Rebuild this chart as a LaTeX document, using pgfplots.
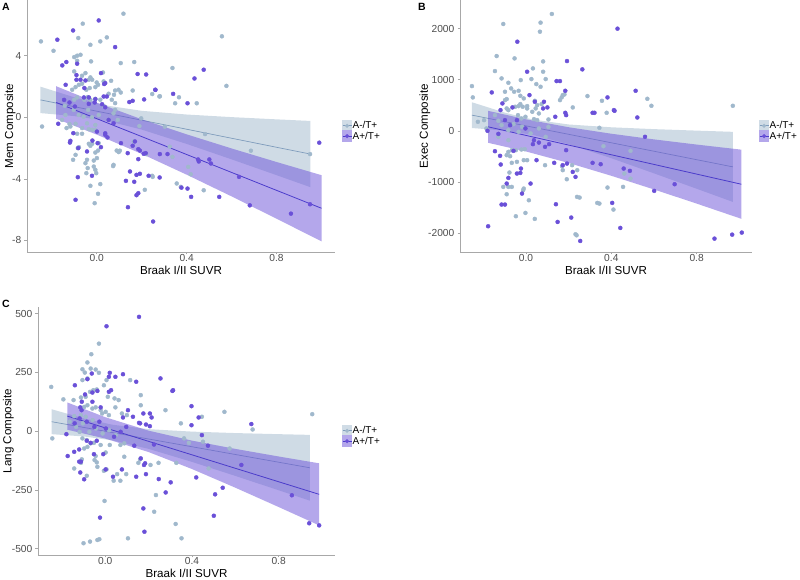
\documentclass[border=0pt]{standalone}
\usepackage{fontspec}
\setmainfont{Liberation Sans}
\usepackage{pgfplots}
\pgfplotsset{compat=1.18}
\definecolor{ptL}{HTML}{A0B8CC}
\definecolor{ptP}{HTML}{6A50D8}
\definecolor{lnL}{HTML}{7F9CBC}
\definecolor{lnP}{HTML}{4B3CCB}
\definecolor{ribLs}{HTML}{D0DCE6}
\definecolor{ribPs}{HTML}{B4A7EB}
\definecolor{axgray}{HTML}{A8A8A8}
\definecolor{tickgray}{HTML}{4D4D4D}
\newcommand{\tl}{\fontsize{10.2}{12}\selectfont}
\newcommand{\lf}{\fontsize{11.6}{13}\selectfont}
\pgfplotsset{
 panel/.style={
  scale only axis,
  axis x line*=bottom, axis y line*=left,
  axis line style={axgray, line width=0.8pt},
  xmin=-0.31, xmax=1.06,
  xtick={0,0.4,0.8}, xticklabels={\tl 0.0,\tl 0.4,\tl 0.8},
  tick style={axgray, line width=0.6pt},
  major tick length=2.5pt,
  tick align=outside,
  ticklabel style={text=tickgray},
  xticklabel style={anchor=base, yshift=-7.5pt, inner sep=0pt},
  yticklabel style={anchor=east, inner sep=0pt, xshift=-3pt},
  xlabel={\lf Braak I/II SUVR},
  every axis x label/.style={at={(axis description cs:0.5,0)}, anchor=base, yshift=-23pt},
  every axis y label/.style={rotate=90, anchor=center},
  legend style={draw=none, fill=none, at={(axis description cs:1,0.5)}, anchor=west, xshift=7pt, yshift=-5pt, font=\fontsize{10}{11}\selectfont, inner sep=0pt, row sep=-1pt, nodes={inner sep=0.6pt}},
  legend cell align=left,
 },
 ptsL/.style={only marks, mark=*, mark size=2.0pt, color=ptL, forget plot},
 ptsP/.style={only marks, mark=*, mark size=2.0pt, color=ptP, forget plot},
 ribL/.style={draw=none, fill=ptL, fill opacity=0.5, forget plot},
 ribP/.style={draw=none, fill=ptP, fill opacity=0.5, forget plot},
 lineL/.style={lnL, line width=0.7pt, no marks, forget plot},
 lineP/.style={lnP, line width=0.8pt, no marks, forget plot},
 keyL/.style={legend image code/.code={\fill[ribLs] (0pt,-5.5pt) rectangle (9pt,5.5pt); \draw[lnL, line width=0.7pt] (0pt,0pt) -- (9pt,0pt); \fill[ptL] (4.5pt,0pt) circle (1.8pt);}},
 keyP/.style={legend image code/.code={\fill[ribPs] (0pt,-5.5pt) rectangle (9pt,5.5pt); \draw[lnP, line width=0.8pt] (0pt,0pt) -- (9pt,0pt); \fill[ptP] (4.5pt,0pt) circle (1.8pt);}},
}
\begin{document}
\begin{tikzpicture}
\path[use as bounding box] (0pt,0pt) rectangle (800pt,580pt);
\node[anchor=north west, inner sep=0pt, font=\bfseries\fontsize{10.5}{12}\selectfont] at (2pt,577pt) {A};
\node[anchor=north west, inner sep=0pt, font=\bfseries\fontsize{10.5}{12}\selectfont] at (418pt,577pt) {B};
\node[anchor=north west, inner sep=0pt, font=\bfseries\fontsize{10.5}{12}\selectfont] at (2pt,280pt) {C};

% ---------------- Panel A ----------------
\begin{axis}[panel, at={(27pt,328pt)}, anchor=south west, width=308pt, height=252pt,
  ymin=-8.75, ymax=7.62, ytick={-8,-4,0,4}, yticklabels={\tl -8,\tl -4,\tl 0,\tl 4},
  ylabel={\lf Mem Composite}, ylabel style={at={(axis description cs:-0.055,0.5)}}]
\addplot[ptsL] coordinates {
(0.119,6.73) (-0.062,6.08) (-0.248,4.93) (-0.192,4.32) (-0.082,5.15) (-0.028,4.71) (0.016,4.93) (0.045,5.19)
(-0.10,3.91) (-0.087,4.00) (-0.072,4.06) (-0.087,3.67) (-0.025,3.63) (0.107,3.52) (0.167,3.59) (-0.10,2.98)
(-0.05,2.87) (-0.065,2.70) (-0.028,2.59) (-0.02,2.44) (-0.035,2.44) (0.0,2.26) (0.028,2.91) (0.031,2.33)
(0.064,2.37) (-0.109,1.79) (-0.094,1.96) (-0.079,2.11) (-0.065,2.18) (-0.046,1.79) (-0.031,1.90) (-0.006,1.96)
(0.006,2.11) (0.082,1.74) (0.097,1.79) (0.077,1.46) (0.053,1.53) (0.107,1.61) (0.16,1.74) (0.247,1.51)
(0.279,1.35) (-0.10,1.14) (-0.087,1.29) (-0.055,1.14) (-0.04,1.31) (-0.028,1.14) (-0.006,1.20) (0.016,1.14)
(0.067,1.14) (0.082,0.92) (0.082,0.49) (-0.142,0.75)
(-0.243,-0.60) (-0.134,-0.70) (-0.117,-0.60) (-0.094,-0.42) (-0.065,-0.70) (-0.087,-1.07) (-0.065,-1.07)
(-0.035,-0.77) (-0.02,-0.81) (-0.006,-0.81) (-0.035,-1.72) (-0.028,-1.85) (-0.02,-1.72) (0.009,-1.68)
(0.006,-2.16) (-0.006,-2.29) (0.001,-2.65) (-0.013,-2.81) (-0.084,-2.00) (-0.079,-1.94) (-0.094,-2.44)
(-0.105,-2.76) (-0.043,-2.76) (-0.05,-2.98) (-0.04,-3.30) (-0.046,-3.63) (-0.013,-3.20) (-0.006,-3.41)
(-0.002,-3.63) (0.016,-4.34) (0.006,-4.97) (-0.028,-4.45) (-0.009,-5.58) (0.075,-3.09) (0.089,-2.16)
(0.098,-2.26) (0.165,-1.57) (0.214,-4.71) (0.247,-3.80)
(0.337,3.20) (0.557,5.26) (0.577,2.04) (0.366,1.30) (0.349,0.91) (0.445,0.91) (0.281,1.37) (0.303,-0.61)
(0.325,-1.91) (0.337,-2.57) (0.356,-4.30) (0.374,-4.52) (0.418,-3.70) (0.407,-3.22) (0.249,-3.87) (0.19,-0.57)
(0.198,-0.07) (0.22,-2.39) (0.482,-1.09) (0.476,-4.74) (0.686,-2.17) (0.949,-2.39) (0.103,-2.17) (0.073,-3.17)
(-0.058,0.04) (-0.038,0.48) (-0.021,0.0) (0.009,0.15) (0.031,0.74) (-0.043,-0.39) (-0.006,-0.5) (-0.08,0.15)
(-0.102,0.48) (-0.139,0.15) (-0.154,-0.17) (-0.121,-0.43) (0.075,0.26) (0.094,-0.17) (0.053,-0.17)
};
\addplot[ptsP] coordinates {
(0.009,6.29) (-0.105,5.64) (-0.175,5.04) (0.082,4.56) (-0.135,3.59) (-0.153,3.37) (-0.087,3.48) (0.182,2.81)
(0.019,2.87) (-0.09,2.74) (-0.072,2.44) (-0.05,2.39) (-0.09,2.44) (0.038,2.22) (0.033,2.16) (-0.138,2.11)
(-0.055,1.90) (0.261,1.79) (0.211,1.16) (0.145,0.99) (0.16,1.07) (-0.057,1.29) (-0.035,1.29) (-0.006,1.18)
(0.031,1.35) (0.045,1.35) (-0.171,-0.42) (-0.117,-1.53) (-0.119,-1.64) (-0.104,-1.03) (-0.082,-2.00)
(-0.043,-2.22) (-0.019,-1.51) (0.004,-1.68) (0.019,-1.94) (0.038,-1.14) (0.048,-1.31) (0.108,-1.68)
(0.138,-2.33) (0.16,-1.85) (0.17,-1.57) (0.185,-2.07) (0.192,-2.16) (0.209,-2.37) (0.218,-2.33) (0.185,-2.72)
(0.148,-3.52) (0.192,-3.67) (0.177,-3.74) (0.13,-4.13) (0.167,-4.19) (0.231,-3.80) (0.28,-3.91) (0.185,-4.93)
(0.177,-5.06) (-0.084,-3.89) (-0.021,-3.80) (-0.094,-5.36) (0.139,-5.84) (0.251,-6.77)
(0.22,2.78) (0.261,1.78) (0.34,1.52) (0.404,0.91) (0.435,2.52) (0.476,3.09) (0.281,-2.39) (0.315,-2.39)
(0.404,-4.63) (0.377,-4.57) (0.42,-5.17) (0.451,-2.74) (0.454,-2.87) (0.501,-2.74) (0.508,-3.00) (0.545,-5.17)
(0.633,-3.87) (0.681,-5.72) (0.864,-6.26) (0.949,-5.65) (0.99,-1.65)
(-0.145,1.13) (-0.121,0.96) (-0.097,0.70) (-0.035,0.87) (-0.009,0.96) (0.024,0.85) (0.038,0.65)
(0.053,-0.17) (0.075,-0.39) (0.001,-0.93) (0.038,-1.04)
};
\addplot[ribL] coordinates {(-0.25,1.988) (-0.1,1.300) (0.05,0.751) (0.2,0.421) (0.4,0.180) (0.6,0.011) (0.8,-0.134) (0.95,-0.237)
 (0.95,-4.537) (0.8,-3.760) (0.6,-2.733) (0.4,-1.730) (0.2,-0.799) (0.05,-0.249) (-0.1,0.080) (-0.25,0.272)} -- cycle;
\addplot[lineL] coordinates {(-0.25,1.130) (0.95,-2.387)};
\addplot[ribP] coordinates {(-0.18,2.017) (0,0.947) (0.2,-0.128) (0.4,-1.107) (0.6,-2.024) (0.8,-2.904) (1.0,-3.761)
 (1.0,-8.059) (0.8,-6.588) (0.6,-5.138) (0.4,-3.727) (0.2,-2.376) (0,-1.123) (-0.18,-0.097)} -- cycle;
\addplot[lineP] coordinates {(-0.18,0.960) (1.0,-5.910)};
\addlegendimage{keyL}\addlegendentry{A-/T+}
\addlegendimage{keyP}\addlegendentry{A+/T+}
\end{axis}

% ---------------- Panel B ----------------
\begin{axis}[panel, at={(460pt,328pt)}, anchor=south west, width=292pt, height=252pt,
  ymin=-2373, ymax=2562, ytick={-2000,-1000,0,1000,2000}, yticklabels={\tl -2000,\tl -1000,\tl 0,\tl 1000,\tl 2000},
  ylabel={\lf Exec Composite}, ylabel style={at={(axis description cs:-0.12,0.5)}}]
\addplot[ptsL] coordinates {
(0.121,2288) (-0.107,2092) (0.068,2118) (0.065,1941) (-0.138,1464) (-0.054,1418) (0.08,1359) (-0.146,1170)
(0.032,1222) (-0.115,1026) (-0.025,993) (0.025,1013) (0.092,1013) (0.08,1157) (-0.083,941) (0.048,915)
(0.068,863) (-0.254,876) (-0.25,654) (-0.07,830) (-0.056,765) (-0.035,784) (-0.099,765) (-0.027,686)
(-0.011,634) (-0.091,621) (-0.099,601) (0.041,588) (0.052,503) (0.073,523) (0.167,654) (0.172,699)
(0.18,712) (0.159,601) (0.288,680) (0.219,458) (-0.035,484) (-0.027,523) (-0.016,471) (-0.051,471)
(0.005,484) (0.005,438) (-0.091,438) (-0.083,405) (0.045,438) (0.029,373) (-0.038,307) (-0.022,242)
(-0.003,275) (0.037,229) (0.06,340) (0.105,222) (-0.197,209)
(-0.083,-412) (-0.067,-379) (-0.048,-379) (-0.022,-366) (-0.006,-359) (-0.091,-477) (-0.075,-497)
(-0.067,-627) (-0.043,-608) (-0.011,-575) (0.005,-575) (-0.078,-817) (-0.107,-1098) (-0.083,-1098)
(-0.091,-1242) (-0.067,-1098) (-0.011,-1131) (-0.014,-1163) (0.013,-1360) (-0.048,-1673) (-0.003,-1608)
(0.041,-1725) (0.169,-693) (0.172,-771) (0.191,-948) (0.216,-673) (0.24,-771) (0.251,-1307) (0.232,-2026)
(0.334,-1412) (0.089,-673) (0.105,78)
(0.356,588) (0.378,353) (0.569,627) (0.588,490) (0.97,490) (0.344,59) (0.363,-301) (0.382,-1111)
(0.41,-1542) (0.455,-1098) (0.461,-837) (0.49,-935) (0.49,-392) (0.344,-1425) (0.239,-1294) (0.237,-2046)
(-0.146,307) (-0.13,196) (-0.115,111) (-0.083,13) (-0.059,131) (-0.035,-20) (-0.019,78) (0.021,-52)
(0.06,46) (0.092,-118) (-0.083,-183) (-0.13,-118) (-0.186,46) (-0.226,176) (0.052,209)
};
\addplot[ptsP] coordinates {
(-0.041,1745) (0.192,1366) (0.264,1203) (0.005,1157) (0.143,974) (0.159,974) (0.184,784) (-0.161,752)
(0.016,699) (-0.111,536) (0.041,569) (0.084,569) (0.08,438) (0.10,458) (0.137,275) (0.184,353) (0.188,307)
(-0.12,405) (-0.064,458) (0.321,353)
(-0.146,-399) (-0.122,-490) (-0.119,-660) (-0.059,-392) (-0.024,-739) (-0.043,-837) (-0.027,-824)
(-0.083,-922) (-0.091,-1033) (-0.019,-1229) (0.021,-1033) (-0.115,-1444) (-0.099,-1444) (-0.178,-1869)
(0.049,-575) (0.132,-627) (0.172,-673) (0.192,-641) (0.219,-804) (0.232,-902) (0.14,-1438) (0.148,-1784)
(0.212,-1699) (0.254,-2157) (0.032,-261) (0.089,-314) (0.108,-261) (0.188,-379)
(0.312,353) (0.382,654) (0.412,405) (0.415,392) (0.429,2000) (0.514,784) (0.522,261) (0.558,-118)
(0.312,-627) (0.35,-654) (0.404,-1412) (0.442,-1902) (0.458,-739) (0.487,-784) (0.601,-1176) (0.697,-1046)
(0.884,-2111) (0.967,-2033) (1.012,-1993)
(-0.181,0) (-0.099,209) (-0.075,111) (-0.043,209) (-0.003,46) (0.037,-183) (-0.13,-60) (0.06,-230)
};
\addplot[ribL] coordinates {(-0.254,559) (-0.1,356) (0.03,222) (0.2,124) (0.4,69) (0.6,33) (0.8,4) (0.97,-20)
 (0.97,-1392) (0.8,-1134) (0.6,-833) (0.4,-537) (0.2,-262) (0.03,-78) (-0.1,3) (-0.254,55)} -- cycle;
\addplot[lineL] coordinates {(-0.254,307) (0.97,-706)};
\addplot[ribP] coordinates {(-0.178,391) (0,225) (0.2,70) (0.4,-57) (0.6,-168) (0.8,-269) (1.01,-369)
 (1.01,-1723) (0.8,-1425) (0.6,-1148) (0.4,-881) (0.2,-630) (0,-405) (-0.178,-235)} -- cycle;
\addplot[lineP] coordinates {(-0.178,78) (1.01,-1046)};
\addlegendimage{keyL}\addlegendentry{A-/T+}
\addlegendimage{keyP}\addlegendentry{A+/T+}
\end{axis}

% ---------------- Panel C ----------------
\begin{axis}[panel, at={(38pt,25pt)}, anchor=south west, width=297pt, height=248pt,
  ymin=-527, ymax=528, ytick={-500,-250,0,250,500}, yticklabels={\tl -500,\tl -250,\tl 0,\tl 250,\tl 500},
  ylabel={\lf Lang Composite}, ylabel style={at={(axis description cs:-0.10,0.5)}}]
\addplot[ptsL] coordinates {
(-0.029,372) (-0.064,327) (-0.082,292) (-0.105,263) (-0.094,249) (-0.067,266) (-0.044,262) (-0.029,248)
(-0.249,188) (-0.193,135) (-0.146,132) (-0.112,143) (-0.09,146) (-0.07,167) (-0.055,174) (-0.039,177)
(-0.105,217) (-0.082,224) (-0.006,195) (0.006,217) (0.012,146) (0.043,139) (0.062,132) (0.115,217)
(0.164,153) (0.164,110) (0.047,101) (0.077,75) (0.10,68) (0.278,89) (-0.082,110) (-0.097,103) (-0.059,96)
(-0.044,101) (-0.021,89) (-0.014,75) (0.002,82) (0.017,68) (-0.112,68) (-0.09,61) (-0.143,64)
(-0.244,-31) (-0.105,-31) (-0.085,-38) (-0.067,-52) (-0.052,-50) (-0.021,-59) (-0.097,-74) (-0.082,-67)
(0.002,-91) (-0.044,-106) (-0.049,-123) (-0.039,-133) (-0.036,-152) (-0.108,-120) (-0.112,-135)
(-0.143,-159) (-0.085,-190) (-0.006,-169) (0.006,-163) (0.039,-211) (0.07,-211) (0.055,-183) (0.088,-109)
(0.097,-183) (0.153,-135) (0.161,-120) (0.209,-144) (0.07,-59) (0.088,-52) (0.021,-59) (-0.003,-297)
(-0.10,-477) (-0.07,-470) (-0.036,-463) (-0.027,-460) (0.105,-456) (0.246,-135) (0.234,-272) (0.226,-343)
(0.325,-395)
(0.349,33) (0.446,61) (0.55,82) (0.574,-74) (0.68,7) (0.955,72) (0.364,-31) (0.328,-135) (0.386,-50)
(0.451,-45) (0.477,-159) (0.352,-456)
(-0.164,40) (-0.134,18) (-0.103,33) (-0.073,-3) (-0.043,11) (-0.012,-10) (0.018,4) (0.049,-17) (-0.118,-3)
(-0.058,47)
};
\addplot[ptsP] coordinates {
(0.156,486) (0.006,446) (-0.082,221) (-0.062,245) (0.021,248) (0.047,231) (0.082,242) (0.017,231)
(-0.14,195) (0.027,174) (0.143,210) (0.255,224) (0.313,174) (-0.093,156) (-0.059,164) (-0.036,171)
(-0.108,125) (-0.059,125) (0.017,167) (-0.109,89) (-0.115,101) (-0.021,101) (0.105,89) (0.082,58)
(0.128,61) (0.176,75) (0.206,75) (0.214,58) (0.156,35) (0.188,28) (0.206,21)
(-0.173,-106) (-0.143,-88) (-0.12,-78) (-0.12,-130) (-0.112,-130) (-0.115,-176) (-0.097,-205) (-0.085,-41)
(-0.067,-50) (-0.039,-41) (-0.052,-98) (-0.009,-98) (0.002,-163) (0.036,-194) (0.077,-163) (0.143,-194)
(0.134,-62) (0.164,-116) (0.184,-137) (0.179,-144) (0.188,-183) (0.247,-204) (0.225,-57) (0.097,18)
(0.161,33) (0.302,-218) (0.279,-261) (0.176,-329) (-0.024,-368) (0.181,-428)
(0.31,171) (0.398,106) (0.398,25) (0.431,58) (0.446,-17) (0.42,-197) (0.474,-62) (0.507,-269) (0.501,-360)
(0.542,-241) (0.628,-144) (0.674,30) (0.861,-273) (0.941,-392) (0.987,-401)
(-0.179,-13) (-0.141,33) (-0.118,54) (-0.085,40) (-0.05,18) (-0.027,40) (0.003,11) (0.041,-24) (0.071,-3)
};
\addplot[ribL] coordinates {(-0.247,93) (-0.1,54.3) (0.03,27.7) (0.2,8.3) (0.4,-2.1) (0.6,-8.3) (0.8,-13.0) (0.944,-16)
 (0.944,-296) (0.8,-251.6) (0.6,-190.5) (0.4,-130.9) (0.2,-75.5) (0.03,-38.9) (-0.1,-22.7) (-0.247,-13)} -- cycle;
\addplot[lineL] coordinates {(-0.247,40) (0.944,-156)};
\addplot[ribP] coordinates {(-0.175,122) (0,59.3) (0.2,2.0) (0.4,-40.4) (0.6,-75.6) (0.8,-107.9) (0.987,-137)
 (0.987,-401) (0.8,-322.9) (0.6,-240.6) (0.4,-161.2) (0.2,-89.0) (0,-31.6) (-0.175,6)} -- cycle;
\addplot[lineP] coordinates {(-0.175,64) (0.987,-269)};
\addlegendimage{keyL}\addlegendentry{A-/T+}
\addlegendimage{keyP}\addlegendentry{A+/T+}
\end{axis}
\end{tikzpicture}
\end{document}
